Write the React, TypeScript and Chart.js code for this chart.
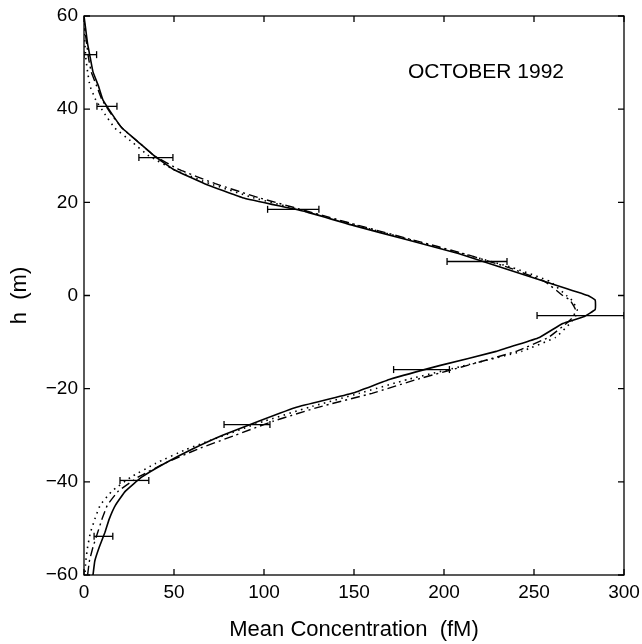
import React, { useEffect, useRef } from "react";
import { Chart, registerables } from "chart.js";

Chart.register(...registerables);

// Heights (m) shared by the model curves
const heights = [60, 57, 54, 51, 48, 45, 42, 39, 36, 33, 30, 27, 24, 21, 18, 15, 12, 9, 6, 3, 0, -1, -3, -4.5, -6, -9, -12, -15, -18, -21, -24, -27, -30, -33, -36, -39, -42, -45, -48, -51, -54, -57, -60];

// Model concentrations (fM)
const solidConc = [0, 1, 2, 3.5, 5, 8, 10.5, 15.5, 21, 30, 39, 50, 67, 88, 123, 150, 179, 208, 232, 256, 280, 284, 284, 278, 266, 253, 229, 198, 170, 149, 118, 97, 77, 60, 45, 32, 23, 17.5, 14, 11.5, 8.5, 6, 5];
const dashDotConc = [0, 0.5, 1.5, 2.5, 4, 7, 10, 15, 21, 30, 39, 53, 73, 97, 125, 153, 182, 211, 236, 256, 266, 270, 273, 272, 268, 258, 240, 213, 185, 160, 130, 105, 84, 63, 45, 30, 19, 13, 10, 7.5, 5, 3, 2];
const dottedConc = [0, 0, 0.5, 1, 2, 3.3, 6.5, 11.5, 17, 26.5, 36, 50, 70, 94, 124, 152, 181, 210, 238, 259, 268, 271, 274, 273, 270, 262, 243, 212, 180, 153, 125, 100, 78, 57, 40, 26, 15.5, 9, 6, 3.5, 2, 1, 0.5];

// Measured error bars
const errHeights = [51.7, 40.6, 29.6, 18.5, 7.3, -4.3, -15.9, -27.7, -39.7, -51.7];
const errLow = [0, 7.2, 30.5, 102, 201.7, 251.7, 172, 77.8, 20, 5.6];
const errHigh = [7, 18.3, 49.4, 130.5, 235, 300, 203, 103.3, 36, 16];

const xTicks = [0, 50, 100, 150, 200, 250, 300];
const yTicks = [-60, -40, -20, 0, 20, 40, 60];

const annotationText = "OCTOBER 1992";
const annotationX = 180;
const annotationY = 46.6;

const FONT = "'Liberation Sans', Arial, Helvetica, sans-serif";

export default function App() {
  const ref = useRef<HTMLCanvasElement | null>(null);

  useEffect(() => {
    if (!ref.current) return;

    const curve = (conc: number[]) => heights.map((h, i) => ({ x: conc[i], y: h }));

    const datasets: any[] = [
      {
        label: "solid",
        data: curve(solidConc),
        showLine: true,
        borderColor: "#000",
        borderWidth: 1.6,
        pointRadius: 0,
        tension: 0.1,
      },
      {
        label: "dashdot",
        data: curve(dashDotConc),
        showLine: true,
        borderColor: "#000",
        borderWidth: 1.4,
        borderDash: [9, 4, 2, 4],
        pointRadius: 0,
        tension: 0.1,
      },
      {
        label: "dotted",
        data: curve(dottedConc),
        showLine: true,
        borderColor: "#000",
        borderWidth: 1.6,
        borderDash: [1.5, 4.5],
        pointRadius: 0,
        tension: 0.1,
      },
    ];

    errHeights.forEach((h, i) => {
      datasets.push({
        label: "err" + i,
        data: [
          { x: errLow[i], y: h },
          { x: errHigh[i], y: h },
        ],
        showLine: true,
        borderColor: "#000",
        borderWidth: 1.3,
        pointStyle: "line",
        rotation: 90,
        pointRadius: 3.5,
        pointBorderWidth: 1.3,
        pointBorderColor: "#000",
      });
    });

    const frameAndTicks = {
      id: "frameAndTicks",
      afterDatasetsDraw(chart: any) {
        const { ctx, chartArea, scales } = chart;
        const { left, right, top, bottom } = chartArea;
        ctx.save();
        ctx.strokeStyle = "#000";
        ctx.lineWidth = 1.3;
        ctx.strokeRect(left, top, right - left, bottom - top);
        const L = 6;
        ctx.beginPath();
        xTicks.forEach((v) => {
          const px = scales.x.getPixelForValue(v);
          ctx.moveTo(px, bottom);
          ctx.lineTo(px, bottom - L);
          ctx.moveTo(px, top);
          ctx.lineTo(px, top + L);
        });
        yTicks.forEach((v) => {
          const py = scales.y.getPixelForValue(v);
          ctx.moveTo(left, py);
          ctx.lineTo(left + L, py);
          ctx.moveTo(right, py);
          ctx.lineTo(right - L, py);
        });
        ctx.stroke();
        ctx.fillStyle = "#000";
        ctx.font = `21px ${FONT}`;
        ctx.textAlign = "left";
        ctx.textBaseline = "alphabetic";
        ctx.fillText(
          annotationText,
          scales.x.getPixelForValue(annotationX),
          scales.y.getPixelForValue(annotationY)
        );
        ctx.restore();
      },
    };

    const chart = new Chart(ref.current, {
      type: "scatter",
      data: { datasets },
      options: {
        responsive: false,
        animation: false,
        layout: { padding: { top: 16, right: 18, left: 0, bottom: 0 } },
        plugins: {
          legend: { display: false },
          tooltip: { enabled: false },
        },
        scales: {
          x: {
            type: "linear",
            min: 0,
            max: 300,
            afterBuildTicks: (s: any) => {
              s.ticks = xTicks.map((v) => ({ value: v }));
            },
            afterFit: (s: any) => {
              s.height = 69;
              s.paddingLeft = 0;
              s.paddingRight = 0;
            },
            grid: { display: false, drawTicks: false },
            border: { display: false },
            ticks: {
              color: "#000",
              padding: 6,
              font: { family: FONT, size: 19 },
              maxRotation: 0,
              callback: (v: any) => String(v).replace("-", "\u2212"),
            },
            title: {
              display: true,
              text: "Mean Concentration  (fM)",
              color: "#000",
              font: { family: FONT, size: 22 },
              padding: { top: 0, bottom: 1 },
            },
          },
          y: {
            type: "linear",
            min: -60,
            max: 60,
            afterBuildTicks: (s: any) => {
              s.ticks = yTicks.map((v) => ({ value: v }));
            },
            afterFit: (s: any) => {
              s.width = 84;
              s.paddingTop = 0;
              s.paddingBottom = 0;
            },
            grid: { display: false, drawTicks: false },
            border: { display: false },
            ticks: {
              color: "#000",
              padding: 6,
              font: { family: FONT, size: 19 },
              callback: (v: any) => String(v).replace("-", "\u2212"),
            },
            title: {
              display: true,
              text: "h  (m)",
              color: "#000",
              font: { family: FONT, size: 22 },
              padding: { top: 7, bottom: 0 },
            },
          },
        },
      },
      plugins: [frameAndTicks],
    });

    return () => chart.destroy();
  }, []);

  return (
    <div style={{ position: "fixed", left: 0, top: 0, width: 642, height: 644, background: "#fff" }}>
      <canvas ref={ref} width={642} height={644} style={{ width: 642, height: 644 }} />
    </div>
  );
}
